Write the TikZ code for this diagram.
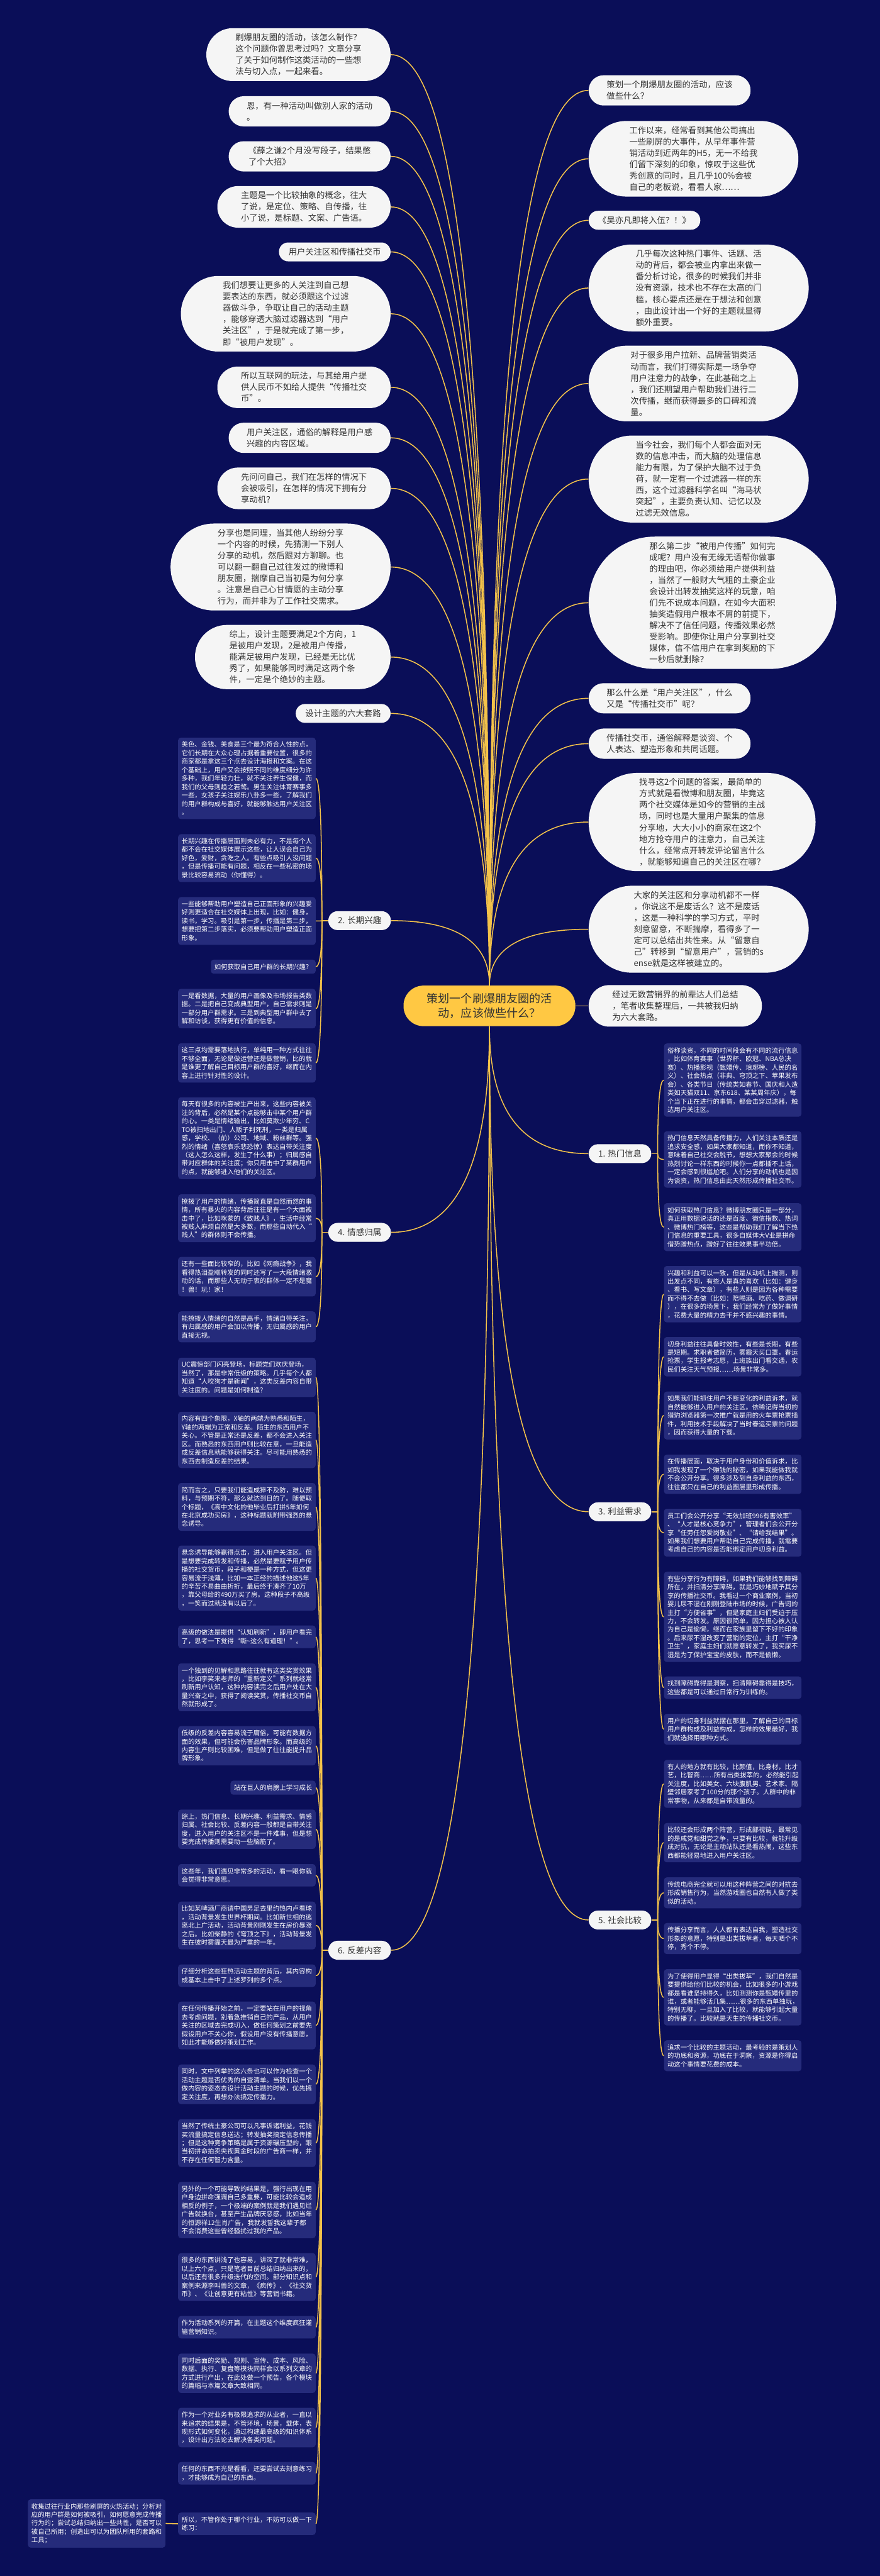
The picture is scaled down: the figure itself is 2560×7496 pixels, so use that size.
\documentclass[tikz,border=0pt]{standalone}
\usepackage{fontspec}
\setmainfont{Noto Sans CJK SC}
\usetikzlibrary{calc,positioning}

\definecolor{bgnavy}{HTML}{0A0E58}
\definecolor{leafnavy}{HTML}{252B7B}
\definecolor{linkgold}{HTML}{F3C24A}
\definecolor{rootgold}{HTML}{FFC843}
\definecolor{pillwhite}{HTML}{F5F5F5}
\definecolor{inkgray}{HTML}{333333}

\begin{document}
\begin{tikzpicture}[x=0.1mm, y=-0.1mm]
\tikzstyle{pill} = [fill=pillwhite, text=inkgray, align=left, inner sep=0pt,
  font=\fontsize{6.95pt}{9.39pt}\selectfont]
\tikzstyle{pill1} = [pill, inner xsep=2.8mm, minimum height=5.5mm, rounded corners=2.7mm]
\tikzstyle{pill2} = [pill, minimum width=47.1mm, minimum height=8.8mm, rounded corners=4.35mm]
\tikzstyle{pill3} = [pill, minimum width=50.4mm, minimum height=12.1mm, rounded corners=6mm]
\tikzstyle{pill4} = [pill, minimum width=53.6mm, minimum height=15.4mm, rounded corners=7.65mm]
\tikzstyle{pill5} = [pill, minimum width=56.9mm, minimum height=18.7mm, rounded corners=9.3mm]
\tikzstyle{pill6} = [pill, minimum width=61mm, minimum height=22mm, rounded corners=10.95mm]
\tikzstyle{pill7} = [pill, minimum width=64mm, minimum height=25.3mm, rounded corners=12.6mm]
\tikzstyle{pill8} = [pill, minimum width=66mm, minimum height=28.6mm, rounded corners=14.25mm]
\tikzstyle{pill11} = [pill, minimum width=72mm, minimum height=38.5mm, rounded corners=19.2mm]
\tikzstyle{topic} = [pill, align=center, minimum width=18.2mm, minimum height=5.5mm,
  rounded corners=2.7mm, font=\fontsize{7pt}{9pt}\selectfont]
\tikzstyle{leafbase} = [fill=leafnavy, text=white, align=left, rounded corners=0.8mm,
  inner xsep=1mm, inner ysep=1.15mm, font=\fontsize{5.4pt}{7pt}\selectfont]
\tikzstyle{leaf} = [leafbase, text width=38mm]
\tikzstyle{link} = [draw=linkgold, line width=0.28mm]

\fill[bgnavy] (0,0) rectangle (2560,7496);
\useasboundingbox (0,0) rectangle (2560,7496);

% centre
\node[fill=rootgold, text=inkgray, align=center, inner sep=0pt, minimum width=50mm,
  minimum height=11.8mm, rounded corners=5.8mm, font=\fontsize{9.4pt}{11.7pt}\selectfont]
  (root) at (1424,2927) {策划一个刷爆朋友圈的活\\动，应该做些什么？};

% upper left
\node[pill4, anchor=east] (l1) at (1137,159) {刷爆朋友圈的活动，该怎么制作？\\这个问题你曾思考过吗？文章分享\\了关于如何制作这类活动的一些想\\法与切入点，一起来看。};
\node[pill2, anchor=east] (l2) at (1137,324) {恩，有一种活动叫做别人家的活动\\。};
\node[pill2, anchor=east] (l3) at (1137,455) {《薛之谦2个月没写段子，结果憋\\了个大招》};
\node[pill3, anchor=east] (l4) at (1137,602) {主题是一个比较抽象的概念，往大\\了说，是定位、策略、自传播，往\\小了说，是标题、文案、广告语。};
\node[pill1, anchor=east] (l5) at (1137,733) {用户关注区和传播社交币};
\node[pill6, anchor=east] (l6) at (1137,913) {我们想要让更多的人关注到自己想\\要表达的东西，就必须跟这个过滤\\器做斗争，争取让自己的活动主题\\，能够穿透大脑过滤器达到“用户\\关注区”，于是就完成了第一步，\\即“被用户发现”。};
\node[pill3, anchor=east] (l7) at (1137,1127) {所以互联网的玩法，与其给用户提\\供人民币不如给人提供“传播社交\\币”。};
\node[pill2, anchor=east] (l8) at (1137,1274) {用户关注区，通俗的解释是用户感\\兴趣的内容区域。};
\node[pill3, anchor=east] (l9) at (1137,1421) {先问问自己，我们在怎样的情况下\\会被吸引，在怎样的情况下拥有分\\享动机？};
\node[pill7, anchor=east] (l10) at (1137,1650) {分享也是同理，当其他人纷纷分享\\一个内容的时候，先猜测一下别人\\分享的动机，然后跟对方聊聊。也\\可以翻一翻自己过往发过的微博和\\朋友圈，揣摩自己当初是为何分享\\。注意是自己心甘情愿的主动分享\\行为，而并非为了工作社交需求。};
\node[pill5, anchor=east] (l11) at (1137,1912) {综上，设计主题要满足2个方向，1\\是被用户发现，2是被用户传播，\\能满足被用户发现，已经是无比优\\秀了，如果能够同时满足这两个条\\件，一定是个绝妙的主题。};
\node[pill1, anchor=east] (l12) at (1137,2076) {设计主题的六大套路};

% upper right
\node[pill2, anchor=west] (r1) at (1712,263) {策划一个刷爆朋友圈的活动，应该\\做些什么？};
\node[pill6, anchor=west] (r2) at (1712,462) {工作以来，经常看到其他公司搞出\\一些刷屏的大事件，从早年事件营\\销活动到近两年的H5，无一不给我\\们留下深刻的印象，惊叹于这些优\\秀创意的同时，且几乎100\%会被\\自己的老板说，看看人家……};
\node[pill1, anchor=west] (r3) at (1712,641) {《吴亦凡即将入伍？！》};
\node[pill7, anchor=west] (r4) at (1712,838) {几乎每次这种热门事件、话题、活\\动的背后，都会被业内拿出来做一\\番分析讨论，很多的时候我们并非\\没有资源，技术也不存在太高的门\\槛，核心要点还是在于想法和创意\\，由此设计出一个好的主题就显得\\额外重要。};
\node[pill6, anchor=west] (r5) at (1712,1116) {对于很多用户拉新、品牌营销类活\\动而言，我们打得实际是一场争夺\\用户注意力的战争，在此基础之上\\，我们还期望用户帮助我们进行二\\次传播，继而获得最多的口碑和流\\量。};
\node[pill7, anchor=west] (r6) at (1712,1394) {当今社会，我们每个人都会面对无\\数的信息冲击，而大脑的处理信息\\能力有限，为了保护大脑不过于负\\荷，就一定有一个过滤器一样的东\\西，这个过滤器科学名叫“海马状\\突起”，主要负责认知、记忆以及\\过滤无效信息。};
\node[pill11, anchor=west] (r7) at (1712,1754) {那么第二步“被用户传播”如何完\\成呢？用户没有无缘无语帮你做事\\的理由吧，你必须给用户提供利益\\，当然了一般财大气粗的土豪企业\\会设计出转发抽奖这样的玩意，咱\\们先不说成本问题，在如今大面积\\抽奖造假用户根本不屑的前提下，\\解决不了信任问题，传播效果必然\\受影响。即使你让用户分享到社交\\媒体，信不信用户在拿到奖励的下\\一秒后就删除？};
\node[pill2, anchor=west] (r8) at (1712,2032) {那么什么是“用户关注区”，什么\\又是“传播社交币”呢？};
\node[pill2, anchor=west] (r9) at (1712,2164) {传播社交币，通俗解释是谈资、个\\人表达、塑造形象和共同话题。};
\node[pill8, anchor=west] (r10) at (1712,2392) {找寻这2个问题的答案，最简单的\\方式就是看微博和朋友圈，毕竟这\\两个社交媒体是如今的营销的主战\\场，同时也是大量用户聚集的信息\\分享地，大大小小的商家在这2个\\地方抢夺用户的注意力，自己关注\\什么，经常点开转发评论留言什么\\，就能够知道自己的关注区在哪？};
\node[pill7, anchor=west] (r11) at (1712,2704) {大家的关注区和分享动机都不一样\\，你说这不是废话么？这不是废话\\，这是一种科学的学习方式，平时\\刻意留意，不断揣摩，看得多了一\\定可以总结出共性来。从“留意自\\己”转移到“留意用户”，营销的s\\ense就是这样被建立的。};
\node[pill3, anchor=west] (r12) at (1712,2927) {经过无数营销界的前辈达人们总结\\，笔者收集整理后，一共被我归纳\\为六大套路。};

% six topics
\node[topic, anchor=west] (b1) at (1712,3357) {1. 热门信息};
\node[topic, anchor=east] (b2) at (1138,2679) {2. 长期兴趣};
\node[topic, anchor=west] (b3) at (1712,4399) {3. 利益需求};
\node[topic, anchor=east] (b4) at (1138,3586) {4. 情感归属};
\node[topic, anchor=west] (b5) at (1712,5587) {5. 社会比较};
\node[topic, anchor=east] (b6) at (1138,5675) {6. 反差内容};

% 1
\node[leaf, anchor=west] (b1a) at (1931,3143) {俗称谈资，不同的时间段会有不同的流行信息\\，比如体育赛事（世界杯、欧冠、NBA总决\\赛）、热播影视（甄嬛传、琅琊榜、人民的名\\义）、社会热点（非典、穹顶之下、苹果发布\\会）、各类节日（传统类如春节、国庆和人造\\类如天猫双11、京东618、某某周年庆），每\\个当下正在进行的事情，都会击穿过滤器，触\\达用户关注区。};
\node[leaf, anchor=west] (b1b) at (1931,3374) {热门信息天然具备传播力，人们关注本质还是\\追求安全感，如果大家都知道，而你不知道，\\意味着自己社交会脱节，想想大家聚会的时候\\热烈讨论一样东西的时候你一点都插不上话，\\一定会感到很尴尬吧。人们分享的动机也是因\\为谈资，热门信息由此天然形成传播社交币。};
\node[leaf, anchor=west] (b1c) at (1931,3571) {如何获取热门信息？微博朋友圈只是一部分，\\真正用数据说话的还是百度、微信指数、热词\\、微博热门榜等，这些是帮助我们了解当下热\\门信息的重要工具，很多自媒体大V业是拼命\\借势蹭热点，蹭好了往往效果事半功倍。};

% 2
\node[leaf, anchor=east] (b2a) at (919,2265) {美色、金钱、美食是三个最为符合人性的点，\\它们长期在大众心理占据着重要位置，很多的\\商家都是拿这三个点去设计海报和文案。在这\\个基础上，用户又会按照不同的维度细分为许\\多种，我们年轻力壮，就不关注养生保健，而\\我们的父母则趋之若鹜。男生关注体育赛事多\\一些，女孩子关注娱乐八卦多一些，了解我们\\的用户群构成与喜好，就能够触达用户关注区\\。};
\node[leaf, anchor=east] (b2b) at (919,2497) {长期兴趣在传播层面则未必有力，不是每个人\\都不会在社交媒体展示这些，让人误会自己为\\好色，爱财，贪吃之人。有些点吸引人没问题\\，但是传播可能有问题，相反在一些私密的场\\景比较容易流动（你懂得）。};
\node[leaf, anchor=east] (b2c) at (919,2680) {一些能够帮助用户塑造自己正面形象的兴趣爱\\好则更适合在社交媒体上出现，比如：健身，\\读书，学习。吸引是第一步，传播是第二步，\\想要把第二步落实，必须要帮助用户塑造正面\\形象。};
\node[leafbase, anchor=east] (b2d) at (919,2813) {如何获取自己用户群的长期兴趣？};
\node[leaf, anchor=east] (b2e) at (919,2935) {一是看数据，大量的用户画像及市场报告类数\\据。二是把自己变成典型用户，自己需求则是\\一部分用户群需求。三是到典型用户群中去了\\解和访谈，获得更有价值的信息。};
\node[leaf, anchor=east] (b2f) at (919,3093) {这三点均需要落地执行，单纯用一种方式往往\\不够全面，无论是做运营还是做营销，比的就\\是谁更了解自己目标用户群的喜好，继而在内\\容上进行针对性的设计。};

% 3
\node[leaf, anchor=west] (b3a) at (1931,3766) {兴趣和利益可以一致，但是从动机上揣测，则\\出发点不同，有些人是真的喜欢（比如：健身\\、看书、写文章），有些人则是因为各种需要\\而不得不去做（比如：陪喝酒、吃药、做调研\\），在很多的场景下，我们经常为了做好事情\\，花费大量的精力去干并不感兴趣的事情。};
\node[leaf, anchor=west] (b3b) at (1931,3948) {切身利益往往具备时效性，有些是长期，有些\\是短期。求职者做简历，雾霾天买口罩，春运\\抢票，学生报考志愿，上班族出门看交通，农\\民们关注天气预报……场景非常多。};
\node[leaf, anchor=west] (b3c) at (1931,4119) {如果我们能抓住用户不断变化的利益诉求，就\\自然能够进入用户的关注区。依稀记得当初的\\猎豹浏览器第一次推广就是用的火车票抢票插\\件，利用技术手段解决了当时春运买票的问题\\，因而获得大量的下载。};
\node[leaf, anchor=west] (b3d) at (1931,4290) {在传播层面，取决于用户身份和价值诉求，比\\如我发现了一个赚钱的秘密，如果我能做我就\\不会公开分享。很多涉及到自身利益的东西，\\往往都只在自己的利益圈层里形成传播。};
\node[leaf, anchor=west] (b3e) at (1931,4460) {员工们会公开分享“无效加班996有害效率”\\、“人才是核心竞争力”，管理者们会公开分\\享“任劳任怨爱岗敬业”、“请给我结果”。\\如果我们想要用户帮助自己完成传播，就需要\\考虑自己的内容是否能绑定用户切身利益。};
\node[leaf, anchor=west] (b3f) at (1931,4705) {有些分享行为有障碍，如果我们能够找到障碍\\所在，并扫清分享障碍，就是巧妙地赋予其分\\享的传播社交币。我看过一个商业案例，当初\\婴儿尿不湿在刚刚登陆市场的时候，广告词的\\主打“方便省事”，但是家庭主妇们受迫于压\\力，不会转发。原因很简单，因为担心被人认\\为自己是偷懒，继而在家族里留下不好的印象\\。后来尿不湿改变了营销的定位，主打“干净\\卫生”，家庭主妇们就愿意转发了，我买尿不\\湿是为了保护宝宝的皮肤，而不是偷懒。};
\node[leaf, anchor=west] (b3g) at (1931,4911) {找到障碍靠得是洞察，扫清障碍靠得是技巧，\\这些都是可以通过日常行为训练的。};
\node[leaf, anchor=west] (b3h) at (1931,5032) {用户的切身利益就摆在那里，了解自己的目标\\用户群构成及利益构成，怎样的效果最好，我\\们就选择用哪种方式。};

% 4
\node[leaf, anchor=east] (b4a) at (919,3312) {每天有很多的内容被生产出来，这些内容被关\\注的背后，必然是某个点能够击中某个用户群\\的心。一类是情绪输出，比如莫欺少年穷、C\\TO被扫地出门、人贩子判死刑，一类是归属\\感，学校、（前）公司、地域、粉丝群等。强\\烈的情绪（喜怒哀乐悲恐惊）表达自带关注度\\（这人怎么这样，发生了什么事）；归属感自\\带对应群体的关注度；你只用击中了某群用户\\的点，就能够进入他们的关注区。};
\node[leaf, anchor=east] (b4b) at (919,3545) {撩拨了用户的情绪，传播简直是自然而然的事\\情，所有暴火的内容背后往往是有一个大面被\\击中了，比如咪蒙的《致贱人》，生活中经常\\被贱人麻烦自然是大多数，而那些自动代入“\\贱人”的群体则不会传播。};
\node[leaf, anchor=east] (b4c) at (919,3715) {还有一些面比较窄的，比如《网瘾战争》，我\\看得热泪盈眶转发的同时还写了一大段情绪激\\动的话，而那些人无动于衷的群体一定不是魔\\！兽！玩！家！};
\node[leaf, anchor=east] (b4d) at (919,3861) {能撩拨人情绪的自然是高手，情绪自带关注，\\有归属感的用户会加以传播，无归属感的用户\\直接无视。};

% 5
\node[leaf, anchor=west] (b5a) at (1931,5191) {有人的地方就有比较，比颜值，比身材，比才\\艺，比智商……所有出类拔萃的，必然能引起\\关注度，比如美女、六块腹肌男、艺术家、隔\\壁邻居家考了100分的那个孩子。人群中的非\\常事物，从来都是自带流量的。};
\node[leaf, anchor=west] (b5b) at (1931,5362) {比较还会形成两个阵营，形成鄙视链，最常见\\的是咸党和甜党之争，只要有比较，就能升级\\成对抗，无论是主动站队还是看热闹，这些东\\西都能轻易地进入用户关注区。};
\node[leaf, anchor=west] (b5c) at (1931,5508) {传统电商完全就可以用这种阵营之间的对抗去\\形成销售行为，当然游戏圈也自然有人做了类\\似的活动。};
\node[leaf, anchor=west] (b5d) at (1931,5641) {传播分享而言，人人都有表达自我，塑造社交\\形象的意愿，特别是出类拔萃者，每天晒个不\\停，秀个不停。};
\node[leaf, anchor=west] (b5e) at (1931,5812) {为了使得用户显得“出类拔萃”，我们自然是\\要提供给他们比较的机会，比如很多的小游戏\\都是看谁坚持得久，比如测测你是甄嬛传里的\\谁，或者能够活几集……很多的东西单独玩，\\特别无聊，一旦加入了比较，就能够引起大量\\的传播了。比较就是天生的传播社交币。};
\node[leaf, anchor=west] (b5f) at (1931,5982) {追求一个比较的主题活动，最考验的是策划人\\的功底和资源，功底在于洞察，资源是你得启\\动这个事情要花费的成本。};

% 6
\node[leaf, anchor=east] (b6a) at (919,4008) {UC震惊部门闪亮登场，标题党们欢庆登场，\\当然了，那是非常低级的策略。几乎每个人都\\知道“人咬狗才是新闻”，这类反差内容自带\\关注度的。问题是如何制造？};
\node[leaf, anchor=east] (b6b) at (919,4190) {内容有四个象限，X轴的两端为熟悉和陌生，\\Y轴的两端为正常和反差。陌生的东西用户不\\关心。不管是正常还是反差，都不会进入关注\\区。而熟悉的东西用户则比较在意，一旦能造\\成反差信息就能够获得关注。尽可能用熟悉的\\东西去制造反差的结果。};
\node[leaf, anchor=east] (b6c) at (919,4385) {简而言之，只要我们能造成猝不及防，难以预\\料，与预期不符，那么就达到目的了。随便取\\个标题，《高中文化的他毕业后打拼5年如何\\在北京成功买房》，这种标题就附带强烈的悬\\念诱导。};
\node[leaf, anchor=east] (b6d) at (919,4592) {悬念诱导能够赢得点击，进入用户关注区。但\\是想要完成转发和传播，必然是要赋予用户传\\播的社交货币，段子和梗是一种方式，但这更\\容易流于浅薄，比如一本正经的描述他这5年\\的辛苦不易曲曲折折，最后终于凑齐了10万\\，靠父母给的490万买了房。这种段子不高级\\，一笑而过就没有以后了。};
\node[leaf, anchor=east] (b6e) at (919,4763) {高级的做法是提供“认知刷新”，即用户看完\\了，思考一下觉得“嘶\textasciitilde 这么有道理！”。};
\node[leaf, anchor=east] (b6f) at (919,4910) {一个独到的见解和思路往往就有这类奖赏效果\\，比如李笑来老师的“重新定义”系列就经常\\刷新用户认知，这种内容读完之后用户处在大\\量兴奋之中，获得了阅读奖赏，传播社交币自\\然就形成了。};
\node[leaf, anchor=east] (b6g) at (919,5080) {低级的反差内容容易流于庸俗，可能有数据方\\面的效果，但可能会伤害品牌形象。而高级的\\内容生产则比较困难，但是做了往往能提升品\\牌形象。};
\node[leafbase, anchor=east] (b6h) at (919,5202) {站在巨人的肩膀上学习成长};
\node[leaf, anchor=east] (b6i) at (919,5323) {综上，热门信息、长期兴趣、利益需求、情感\\归属、社会比较、反差内容一般都是自带关注\\度，进入用户的关注区不是一件难事，但是想\\要完成传播则需要动一些脑筋了。};
\node[leaf, anchor=east] (b6j) at (919,5457) {这些年，我们遇见非常多的活动，看一眼你就\\会觉得非常意思。};
\node[leaf, anchor=east] (b6k) at (919,5603) {比如某啤酒厂商请中国男足去里约热内卢看球\\，活动背景发生世界杯期间。比如新世相的逃\\离北上广活动，活动背景刚刚发生在房价暴涨\\之后。比如柴静的《穹顶之下》，活动背景发\\生在彼时雾霾天最为严重的一年。};
\node[leaf, anchor=east] (b6l) at (919,5749) {仔细分析这些狂热活动主题的背后，其内容构\\成基本上击中了上述罗列的多个点。};
\node[leaf, anchor=east] (b6m) at (919,5894) {在任何传播开始之前，一定要站在用户的视角\\去考虑问题，别着急推销自己的产品，从用户\\关注的区域去完成切入，做任何策划之前要先\\假设用户不关心你，假设用户没有传播意愿，\\如此才能够做好策划工作。};
\node[leaf, anchor=east] (b6n) at (919,6065) {同时，文中列举的这六条也可以作为检查一个\\活动主题是否优秀的自查清单。当我们以一个\\做内容的姿态去设计活动主题的时候，优先搞\\定关注度，再想办法搞定传播力。};
\node[leaf, anchor=east] (b6o) at (919,6236) {当然了传统土豪公司可以凡事诉诸利益，花钱\\买流量搞定信息送达；转发抽奖搞定信息传播\\；但是这种竞争策略是属于资源碾压型的，跟\\当初拼命拍卖央视黄金时段的广告商一样，并\\不存在任何智力含量。};
\node[leaf, anchor=east] (b6p) at (919,6431) {另外的一个可能导致的结果是，强行出现在用\\户身边拼命强调自己多重要，可能比较会造成\\相反的例子，一个极端的案例就是我们遇见烂\\广告就换台，甚至产生品牌厌恶感，比如当年\\的恒源祥12生肖广告，我就发誓我这辈子都\\不会消费这些曾经骚扰过我的产品。};
\node[leaf, anchor=east] (b6q) at (919,6626) {很多的东西讲浅了也容易，讲深了就非常难，\\以上六个点，只是笔者目前总结归纳出来的，\\以后还有很多升级迭代的空间。部分知识点和\\案例来源李叫兽的文章，《疯传》、《社交货\\币》、《让创意更有粘性》等营销书籍。};
\node[leaf, anchor=east] (b6r) at (919,6772) {作为活动系列的开篇，在主题这个维度疯狂灌\\输营销知识。};
\node[leaf, anchor=east] (b6s) at (919,6906) {同时后面的奖励、规则、宣传、成本、风险、\\数据、执行、复盘等模块同样会以系列文章的\\方式进行产出，在此处做一个预告，各个模块\\的篇幅与本篇文章大致相同。};
\node[leaf, anchor=east] (b6t) at (919,7064) {作为一个对业务有极限追求的从业者，一直以\\来追求的结果是，不管环境，场景，载体，表\\现形式如何变化，通过构建最高级的知识体系\\，设计出方法论去解决各类问题。};
\node[leaf, anchor=east] (b6u) at (919,7197) {任何的东西不光是看看，还要尝试去刻意练习\\，才能够成为自己的东西。};
\node[leaf, anchor=east] (b6v) at (919,7344) {所以，不管你处于哪个行业，不妨可以做一下\\练习：};
\node[leaf, anchor=east] (tail) at (482,7343) {收集过往行业内那些刷屏的火热活动；分析对\\应的用户群是如何被吸引，如何愿意完成传播\\行为的；尝试总结归纳出一些共性，是否可以\\被自己所用；创造出可以为团队所用的套路和\\工具；};

% links from the centre
\foreach \n in {l1,l2,l3,l4,l5,l6,l7,l8,l9,l10,l11,l12,b2}
  \draw[link] (root.north) .. controls ($(root.north)!.667!(root.north |- \n.east)$)
    and ($(\n.east)!.667!(root.north |- \n.east)$) .. (\n.east);
\foreach \n in {r1,r2,r3,r4,r5,r6,r7,r8,r9,r10,r11}
  \draw[link] (root.north) .. controls ($(root.north)!.667!(root.north |- \n.west)$)
    and ($(\n.west)!.667!(root.north |- \n.west)$) .. (\n.west);
\foreach \n in {b4,b6}
  \draw[link] (root.south) .. controls ($(root.south)!.667!(root.south |- \n.east)$)
    and ($(\n.east)!.667!(root.south |- \n.east)$) .. (\n.east);
\foreach \n in {b1,b3,b5}
  \draw[link] (root.south) .. controls ($(root.south)!.667!(root.south |- \n.west)$)
    and ($(\n.west)!.667!(root.south |- \n.west)$) .. (\n.west);
\draw[link] (root.east) -- (r12.west);

% links to the leaves
\coordinate (j1) at ($(b1.east)+(18,0)$);
\coordinate (j3) at ($(b3.east)+(18,0)$);
\coordinate (j5) at ($(b5.east)+(18,0)$);
\coordinate (j2) at ($(b2.west)+(-18,0)$);
\coordinate (j4) at ($(b4.west)+(-18,0)$);
\coordinate (j6) at ($(b6.west)+(-18,0)$);
\draw[link] (b1.east) -- (j1);
\draw[link] (b3.east) -- (j3);
\draw[link] (b5.east) -- (j5);
\draw[link] (b2.west) -- (j2);
\draw[link] (b4.west) -- (j4);
\draw[link] (b6.west) -- (j6);
\foreach \j/\list in {j1/{b1a,b1b,b1c}, j3/{b3a,b3b,b3c,b3d,b3e,b3f,b3g,b3h},
    j5/{b5a,b5b,b5c,b5d,b5e,b5f}}
  \foreach \n in \list
    \draw[link] (\j) .. controls ($(\j)!.667!(\j |- \n.west)$)
      and ($(\n.west)!.667!(\j |- \n.west)$) .. (\n.west);
\foreach \j/\list in {j2/{b2a,b2b,b2c,b2d,b2e,b2f}, j4/{b4a,b4b,b4c,b4d},
    j6/{b6a,b6b,b6c,b6d,b6e,b6f,b6g,b6h,b6i,b6j,b6k,b6l,b6m,b6n,b6o,b6p,b6q,b6r,b6s,b6t,b6u,b6v}}
  \foreach \n in \list
    \draw[link] (\j) .. controls ($(\j)!.667!(\j |- \n.east)$)
      and ($(\n.east)!.667!(\j |- \n.east)$) .. (\n.east);
\draw[link] (b6v.west) -- (tail.east);
\end{tikzpicture}
\end{document}
